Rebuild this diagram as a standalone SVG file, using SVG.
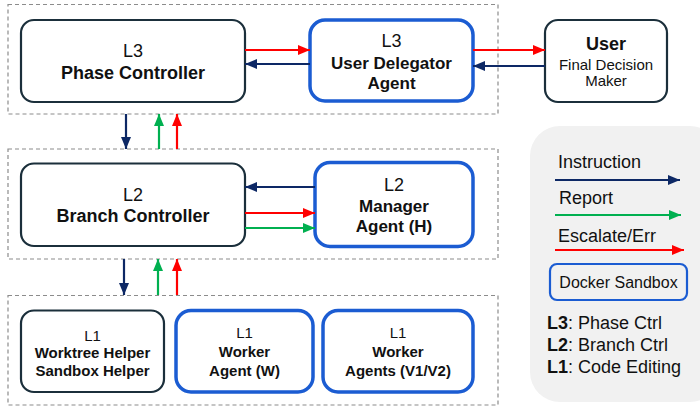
<svg xmlns="http://www.w3.org/2000/svg" width="700" height="406" viewBox="0 0 700 406">
<style>
text{font-family:"Liberation Sans",Arial,sans-serif;fill:#111;}
.grp{fill:none;stroke:#8c8c8c;stroke-width:1.2;stroke-dasharray:4 3;}
.dark{fill:#fff;stroke:#1b2f3b;stroke-width:2.2;}
.blue{fill:#fff;stroke:#1b5cd2;stroke-width:3.5;}
.lv{font-size:18px;text-anchor:middle;}
.lv1{font-size:15px;text-anchor:middle;}
.big{font-size:18px;font-weight:bold;text-anchor:middle;}
.mid{font-size:17px;font-weight:bold;text-anchor:middle;}
.sm{font-size:15px;font-weight:bold;text-anchor:middle;}
.ins{stroke:#0d2865;stroke-width:2.2;fill:none;}
.rep{stroke:#00b050;stroke-width:2.2;fill:none;}
.esc{stroke:#ff0000;stroke-width:2.2;fill:none;}
.leg{font-size:18px;}
</style>
<defs>
<marker id="aI" markerUnits="userSpaceOnUse" markerWidth="12" markerHeight="10" refX="12" refY="5" orient="auto"><path d="M0,0 L12,5 L0,10 z" fill="#0d2865"/></marker>
<marker id="aR" markerUnits="userSpaceOnUse" markerWidth="12" markerHeight="10" refX="12" refY="5" orient="auto"><path d="M0,0 L12,5 L0,10 z" fill="#00b050"/></marker>
<marker id="aE" markerUnits="userSpaceOnUse" markerWidth="12" markerHeight="10" refX="12" refY="5" orient="auto"><path d="M0,0 L12,5 L0,10 z" fill="#ff0000"/></marker>
</defs>

<g id="groups">
<rect class="grp" x="8" y="4.5" width="490" height="109.5"/>
<rect class="grp" x="8" y="149" width="490" height="110"/>
<rect class="grp" x="8" y="295.5" width="490" height="109.5"/>
</g>

<g id="legend">
<rect x="530" y="126" width="190" height="276" rx="30" fill="#f1f1f1"/>
<text class="leg" x="558" y="168">Instruction</text>
<line class="ins" x1="555" y1="180" x2="680" y2="180" marker-end="url(#aI)"/>
<text class="leg" x="559" y="204">Report</text>
<line class="rep" x1="555" y1="215" x2="681" y2="215" marker-end="url(#aR)"/>
<text class="leg" x="558" y="241.5">Escalate/Err</text>
<line class="esc" x1="555" y1="250" x2="684" y2="250" marker-end="url(#aE)"/>
<rect x="550" y="264" width="137" height="36" rx="7" fill="#f1f1f1" stroke="#1b5cd2" stroke-width="2.2"/>
<text x="618.5" y="288" font-size="16" text-anchor="middle">Docker Sandbox</text>
<text class="leg" x="547" y="329"><tspan font-weight="bold">L3</tspan>: Phase Ctrl</text>
<text class="leg" x="547" y="351"><tspan font-weight="bold">L2</tspan>: Branch Ctrl</text>
<text class="leg" x="547" y="373"><tspan font-weight="bold">L1</tspan>: Code Editing</text>
</g>

<g id="phase-controller">
<rect class="dark" x="21" y="20" width="224" height="82" rx="13"/>
<text class="lv" x="133" y="57">L3</text>
<text class="big" x="133" y="79">Phase Controller</text>
</g>

<g id="user-delegator">
<rect class="blue" x="310" y="20" width="163" height="81" rx="15"/>
<text class="lv" x="391.5" y="47">L3</text>
<text class="mid" x="391.5" y="68.5">User Delegator</text>
<text class="mid" x="391.5" y="89">Agent</text>
</g>

<g id="user">
<rect class="dark" x="545" y="20" width="122" height="82" rx="13"/>
<text class="big" x="606" y="50">User</text>
<text x="606" y="69.5" font-size="15" text-anchor="middle">Final Decision</text>
<text x="606" y="86" font-size="15" text-anchor="middle">Maker</text>
</g>

<g id="branch-controller">
<rect class="dark" x="21" y="163.5" width="224" height="82.5" rx="13"/>
<text class="lv" x="133" y="201">L2</text>
<text class="big" x="133" y="222">Branch Controller</text>
</g>

<g id="manager-agent">
<rect class="blue" x="315" y="162.5" width="158" height="84" rx="15"/>
<text class="lv" x="394" y="191">L2</text>
<text class="mid" x="394" y="211.5">Manager</text>
<text class="mid" x="394" y="231.5">Agent (H)</text>
</g>

<g id="helpers">
<rect class="dark" x="21" y="310.5" width="143" height="81.5" rx="13"/>
<text class="lv1" x="92.5" y="340.5">L1</text>
<text class="sm" x="92.5" y="358" font-size="14">Worktree Helper</text>
<text class="sm" x="92.5" y="376" font-size="14">Sandbox Helper</text>
</g>

<g id="worker-agent">
<rect class="blue" x="176" y="310.5" width="137" height="81.5" rx="15"/>
<text class="lv1" x="244.5" y="338">L1</text>
<text class="sm" x="244.5" y="357">Worker</text>
<text class="sm" x="244.5" y="376">Agent (W)</text>
</g>

<g id="worker-agents-v">
<rect class="blue" x="323" y="310.5" width="150" height="81.5" rx="15"/>
<text class="lv1" x="398" y="338">L1</text>
<text class="sm" x="398" y="357">Worker</text>
<text class="sm" x="398" y="376">Agents (V1/V2)</text>
</g>

<g id="connectors">
<line class="esc" x1="245" y1="50" x2="310" y2="50" marker-end="url(#aE)"/>
<line class="ins" x1="310" y1="64" x2="245" y2="64" marker-end="url(#aI)"/>
<line class="esc" x1="473" y1="50" x2="545" y2="50" marker-end="url(#aE)"/>
<line class="ins" x1="545" y1="66" x2="473" y2="66" marker-end="url(#aI)"/>
<line class="ins" x1="315" y1="187" x2="245" y2="187" marker-end="url(#aI)"/>
<line class="esc" x1="245" y1="213" x2="315" y2="213" marker-end="url(#aE)"/>
<line class="rep" x1="245" y1="228" x2="315" y2="228" marker-end="url(#aR)"/>
<line class="ins" x1="126" y1="114" x2="126" y2="149" marker-end="url(#aI)"/>
<line class="rep" x1="159" y1="149" x2="159" y2="114" marker-end="url(#aR)"/>
<line class="esc" x1="177" y1="149" x2="177" y2="114" marker-end="url(#aE)"/>
<line class="ins" x1="124" y1="259" x2="124" y2="295" marker-end="url(#aI)"/>
<line class="rep" x1="158" y1="295" x2="158" y2="259" marker-end="url(#aR)"/>
<line class="esc" x1="177" y1="295" x2="177" y2="259" marker-end="url(#aE)"/>
</g>
</svg>
